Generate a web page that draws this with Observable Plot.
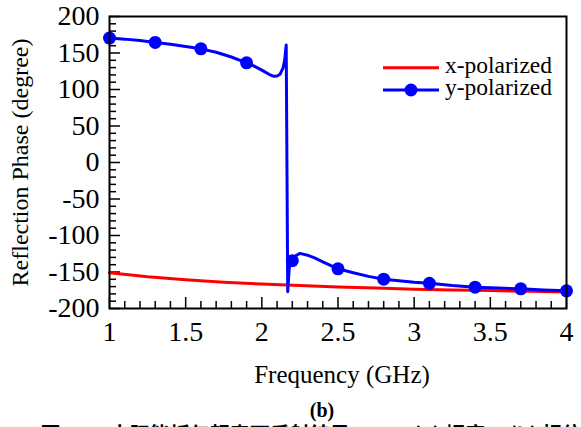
<!DOCTYPE html>
<html><head><meta charset="utf-8">
<script src="https://cdn.jsdelivr.net/npm/d3@7"></script>
<script src="https://cdn.jsdelivr.net/npm/@observablehq/plot@0.6"></script>
<style>body{margin:0;background:#fff;}</style>
</head><body><div id="chart"></div>
<script>
// y-polarized dense curve
const freqY = [1.0,1.1,1.2,1.3,1.4,1.5,1.6,1.7,1.8,1.9,1.95,2.0,2.05,2.08,2.1,2.12,2.14,2.15,2.16,2.17,2.175,2.18,2.19,2.2,2.22,2.25,2.3,2.35,2.4,2.45,2.5,2.6,2.7,2.8,2.9,3.0,3.1,3.25,3.4,3.55,3.7,3.85,4.0];
const phaseY = [170.5,169,167,164.5,162,159,155.7,151,144.5,136.5,132,126.5,120.5,118,118.5,121,130,140,161,-177,-160,-145,-137,-134.5,-128,-124.5,-127,-131,-136,-141,-145.6,-151,-156,-159.8,-162,-164,-165.5,-168.5,-170.8,-172,-173,-174.5,-175.8];
// y-polarized markers
const markerFreq = [1.0,1.3,1.6,1.9,2.2,2.5,2.8,3.1,3.4,3.7,4.0];
const markerPhase = [170.5,164.5,155.7,136.5,-134.5,-145.6,-159.8,-165.5,-170.8,-173,-175.8];
// x-polarized curve
const freqX = [1.0,1.25,1.5,1.75,2.0,2.25,2.5,2.75,3.0,3.25,3.5,3.75,4.0];
const phaseX = [-151,-156.5,-160.5,-164,-166.5,-168.5,-170.5,-172,-173.5,-174.5,-175.5,-176.5,-177.5];

const xTicks = [1,1.5,2,2.5,3,3.5,4];
const xMinor = [1.1,1.2,1.3,1.4,1.6,1.7,1.8,1.9,2.1,2.2,2.3,2.4,2.6,2.7,2.8,2.9,3.1,3.2,3.3,3.4,3.6,3.7,3.8,3.9];
const yTicks = [-200,-150,-100,-50,0,50,100,150,200];
const yMinor = [-190,-180,-170,-160,-140,-130,-120,-110,-90,-80,-70,-60,-40,-30,-20,-10,10,20,30,40,60,70,80,90,110,120,130,140,160,170,180,190];
const seriesNames = ["x-polarized","y-polarized"];
const seriesColors = ["#ff0000","#0000ff"];
const xLabel = "Frequency (GHz)";
const yLabel = "Reflection Phase (degree)";
const panelLabel = "(b)";
const caption = "图 2-8\u00A0\u00A0\u00A0太阳能板与超表面反射结果：\u3000\u3000\u00A0\u00A0\u00A0(a) 幅度\u3000\u00A0(b) 相位";

const lineY = freqY.map((f,i)=>({f, p: phaseY[i]}));
const lineX = freqX.map((f,i)=>({f, p: phaseX[i]}));
const markers = markerFreq.map((f,i)=>({f, p: markerPhase[i]}));

const font = "Liberation Serif, Times New Roman, serif";
const plot = Plot.plot({
  width: 581, height: 427,
  marginLeft: 109, marginRight: 15, marginTop: 16, marginBottom: 119,
  style: {fontFamily: font, fontSize: "26px", background: "white", color: "black", overflow: "visible"},
  x: {domain: [1, 4]},
  y: {domain: [-200, 200]},
  marks: [
    Plot.axisX(xMinor, {anchor: "bottom", tickSize: -7, strokeWidth: 1.5, tickFormat: () => "", label: null}),
    Plot.axisX(xTicks, {anchor: "bottom", tickSize: -11, strokeWidth: 1.5, tickFormat: () => "", label: null}),
    Plot.axisX(xTicks, {anchor: "bottom", tickSize: 0, tickPadding: 13, tickFormat: d => String(d), label: null, fontSize: 28}),
    Plot.axisY(yMinor, {anchor: "left", tickSize: -7, strokeWidth: 1.5, tickFormat: () => "", label: null}),
    Plot.axisY(yTicks, {anchor: "left", tickSize: -11, strokeWidth: 1.5, tickFormat: () => "", label: null}),
    Plot.axisY(yTicks, {anchor: "left", tickSize: 0, tickPadding: 10, tickFormat: d => String(d), label: null, fontSize: 28}),
    Plot.line(lineX, {x: "f", y: "p", stroke: seriesColors[0], strokeWidth: 3}),
    Plot.line(lineY, {x: "f", y: "p", stroke: seriesColors[1], strokeWidth: 3}),
    Plot.dot(markers, {x: "f", y: "p", r: 6.5, fill: seriesColors[1], stroke: null}),
    Plot.frame({stroke: "black", strokeWidth: 2}),
    Plot.text([xLabel], {text: d => d, frameAnchor: "bottom", dx: 4, dy: 74, fontSize: 25}),
    Plot.text([yLabel], {text: d => d, frameAnchor: "left", textAnchor: "middle", dx: -89, rotate: -90, fontSize: 24}),
    Plot.text([panelLabel], {text: d => d, frameAnchor: "bottom", dx: -16, dy: 108, fontSize: 20, fontWeight: "bold"}),
    Plot.text([caption], {text: d => d, frameAnchor: "bottom-left", dx: -69, dy: 119, lineAnchor: "top", textAnchor: "start", fontSize: 20, fontWeight: "bold", fontFamily: "Noto Sans CJK SC"})
  ]
});

// legend
const svg = d3.select(plot);
const lg = svg.append("g").attr("font-family", font).attr("font-size", 23.5).attr("text-anchor", "start");
seriesNames.forEach((name, i) => {
  const y = 67.7 + i * 22.3;
  lg.append("line").attr("x1", 383).attr("x2", 439).attr("y1", y).attr("y2", y)
    .attr("stroke", seriesColors[i]).attr("stroke-width", 3);
  if (i === 1) lg.append("circle").attr("cx", 411).attr("cy", y).attr("r", 6.5).attr("fill", seriesColors[i]);
  lg.append("text").attr("x", 445).attr("y", y + 5).attr("fill", "black").text(name);
});
document.getElementById("chart").appendChild(plot);
</script>
</body></html>
